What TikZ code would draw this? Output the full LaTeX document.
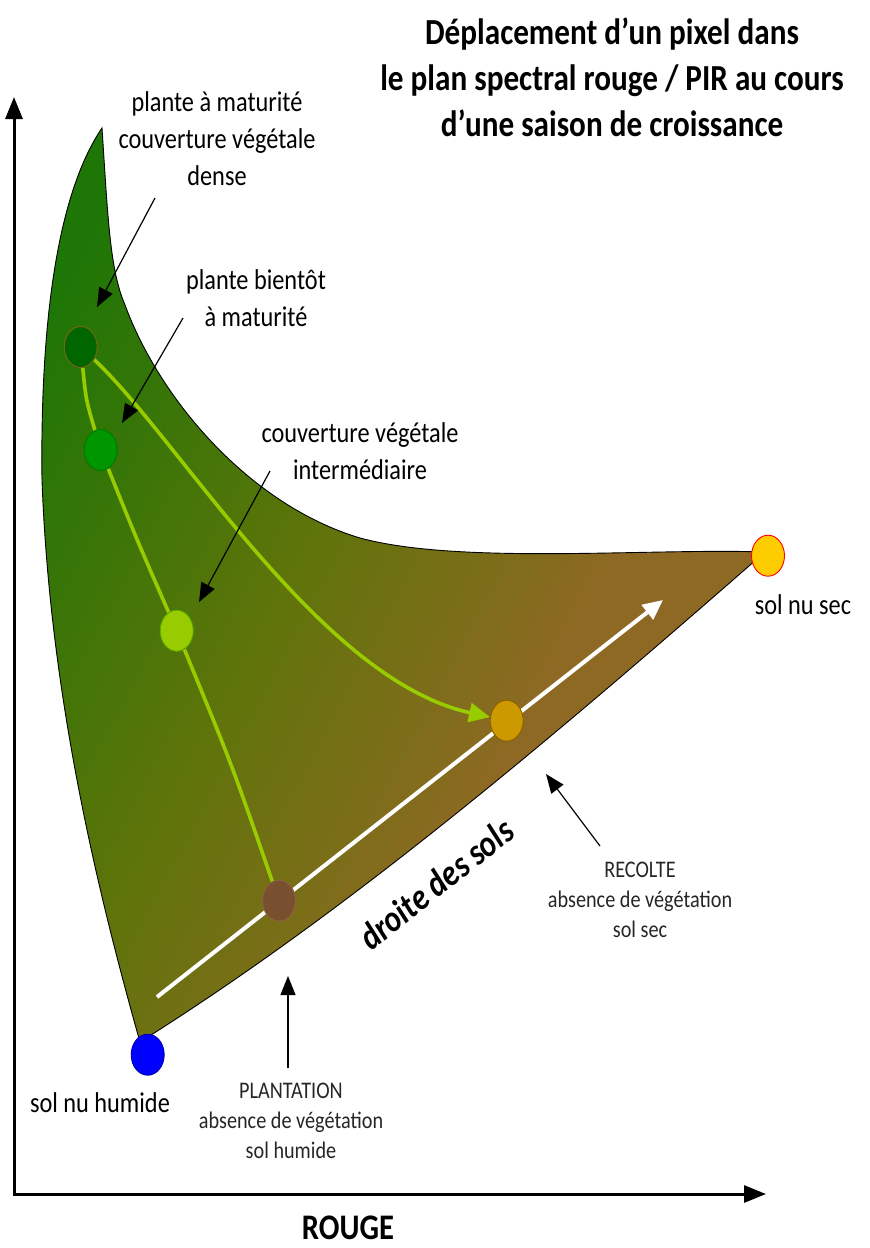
\documentclass[tikz,border=0pt]{standalone}
\usepackage{fontspec}
\setmainfont{Carlito}
\newfontfamily\calfont[FakeStretch=0.85]{Carlito}
\usetikzlibrary{arrows.meta,shapes.geometric}
\definecolor{vgreen}{RGB}{30,118,6}
\definecolor{olv}{RGB}{95,116,10}
\definecolor{vbrown}{RGB}{142,105,35}
\definecolor{lgreen}{RGB}{153,204,0}
\pgfdeclarelayer{back}
\pgfdeclarelayer{mid}
\pgfsetlayers{back,mid,main}
\tikzset{
  pt/.style={ellipse, minimum width=33pt, minimum height=41pt, inner sep=0pt, line width=0.9pt},
  lbl/.style={align=center, inner sep=0pt, font=\calfont\fontsize{28.6}{37}\selectfont},
  small/.style={align=center, inner sep=0pt, text=black!85, font=\calfont\fontsize{23.8}{30}\selectfont},
  ttl/.style={align=center, inner sep=0pt, font=\calfont\bfseries\fontsize{36.7}{46}\selectfont},
  axl/.style={inner sep=0pt, font=\calfont\bfseries\fontsize{36}{40}\selectfont},
  drt/.style={inner sep=0pt, font=\calfont\bfseries\itshape\fontsize{37}{40}\selectfont},
  axis/.style={line width=3pt, -{Triangle[length=22pt,width=17pt]}},
  note/.style={line width=1.2pt, -{Triangle[length=19pt,width=15pt]}},
  gline/.style={draw=lgreen, line width=3.6pt},
  garrow/.style={draw=lgreen, line width=3.6pt, -{Triangle[length=21pt,width=19pt]}},
  warrow/.style={draw=white, line width=4pt, -{Triangle[length=20pt,width=18pt]}},
  soilpath/.style={insert path={
    (102,128) .. controls (60,190) and (40,310) .. (42,480)
    .. controls (50,700) and (100,900) .. (140,1042)
    .. controls (350,910) and (550,740) .. (765,552)
    .. controls (650,548) and (460,565) .. (360,538)
    .. controls (250,505) and (160,400) .. (125,305)
    .. controls (110,270) and (108,220) .. (102,128) -- cycle}}
}
\begin{document}
\begin{tikzpicture}[x=1pt,y=-1pt]
\useasboundingbox (0,0) rectangle (870,1248);
% axes
\coordinate (o) at (14,1194);
\coordinate (ytip) at (14,97);
\coordinate (xtip) at (766,1194);
\draw[axis] ([yshift=-1.5pt]o) -- (ytip);
\draw[axis] ([xshift=-1.5pt]o) -- (xtip);
% shaded domain
\begin{pgfonlayer}{back}
\begin{scope}
\path[clip, soilpath];
\foreach \u in {140,148,...,956} {
  \pgfmathsetmacro\tt{max(0,min(1,(\u-187)/613))}
  \ifdim\tt pt<0.55pt
    \pgfmathsetmacro\pc{\tt/0.55*100}
    \colorlet{stripc}{olv!\pc!vgreen}
  \else
    \pgfmathsetmacro\pc{(\tt-0.55)/0.45*100}
    \colorlet{stripc}{vbrown!\pc!olv}
  \fi
  \fill[stripc] ({0.884*\u+561.6},{0.468*\u-1060.8}) -- ({0.884*(\u+10)+561.6},{0.468*(\u+10)-1060.8})
     -- ({0.884*(\u+10)-561.6},{0.468*(\u+10)+1060.8}) -- ({0.884*\u-561.6},{0.468*\u+1060.8}) -- cycle;
}
\end{scope}
\path[draw=black, line width=0.9pt, soilpath];
\end{pgfonlayer}
% points
\node[pt, fill={rgb,255:red,0;green,102;blue,0}, draw={rgb,255:red,130;green,100;blue,20}] (p1) at (80.7,347) {};
\node[pt, fill={rgb,255:red,0;green,150;blue,0}, draw={rgb,255:red,0;green,120;blue,0}] (p2) at (100.7,450) {};
\node[pt, fill={rgb,255:red,153;green,204;blue,0}, draw={rgb,255:red,90;green,170;blue,0}] (p3) at (176.7,630.7) {};
\node[pt, fill={rgb,255:red,120;green,80;blue,48}, draw={rgb,255:red,140;green,100;blue,60}] (p4) at (279,900.7) {};
\node[pt, fill={rgb,255:red,204;green,153;blue,0}, draw={rgb,255:red,140;green,95;blue,0}] (p5) at (506.7,720.7) {};
\node[pt, fill={rgb,255:red,255;green,204;blue,0}, draw=red] (dry) at (768,555.7) {};
\node[pt, fill=blue, draw={rgb,255:red,0;green,0;blue,170}] (wet) at (147.7,1054.7) {};
% lines under the points
\begin{pgfonlayer}{mid}
\coordinate (w1) at (157,997);
\coordinate (w2) at (663,600);
\draw[warrow] (w1) -- (w2);
\draw[gline] (p1) .. controls (86,400) .. (p2);
\draw[gline] (p2) .. controls (137,540) .. (p3);
\draw[gline] (p3) .. controls (232,765) .. (p4);
\draw[garrow] (p1) .. controls (180,440) and (320,680) .. (p5);
\end{pgfonlayer}
% labels
\node[ttl] (title) at (612,77) {Déplacement d’un pixel dans\\le plan spectral rouge / PIR au cours\\d’une saison de croissance};
\node[lbl] (t1) at (217,139) {plante à maturité\\couverture végétale\\dense};
\node[lbl] (t2) at (256,298) {plante bientôt\\à maturité};
\node[lbl] (t3) at (360,451) {couverture végétale\\intermédiaire};
\node[small] (t4) at (640,900) {RECOLTE\\absence de végétation\\sol sec};
\node[small] (t5) at (291,1121) {PLANTATION\\absence de végétation\\sol humide};
\node[lbl] (t6) at (100,1103) {sol nu humide};
\node[lbl] (t7) at (803,605) {sol nu sec};
\node[axl] (t8) at (348,1228) {ROUGE};
\node[drt, rotate=38.5] (t9) at (436,884) {droite des sols};
% annotation arrows
\coordinate (a1s) at (155,198); \coordinate (a1e) at (97,307);
\coordinate (a2s) at (183,318); \coordinate (a2e) at (122,423);
\coordinate (a3s) at (270,471); \coordinate (a3e) at (199,602);
\coordinate (a4s) at (600,846); \coordinate (a4e) at (546,774);
\coordinate (a5s) at (288,1068); \coordinate (a5e) at (288,976);
\draw[note] (a1s) -- (a1e);
\draw[note] (a2s) -- (a2e);
\draw[note] (a3s) -- (a3e);
\draw[note] (a4s) -- (a4e);
\draw[note] (a5s) -- (a5e);
\end{tikzpicture}
\end{document}
